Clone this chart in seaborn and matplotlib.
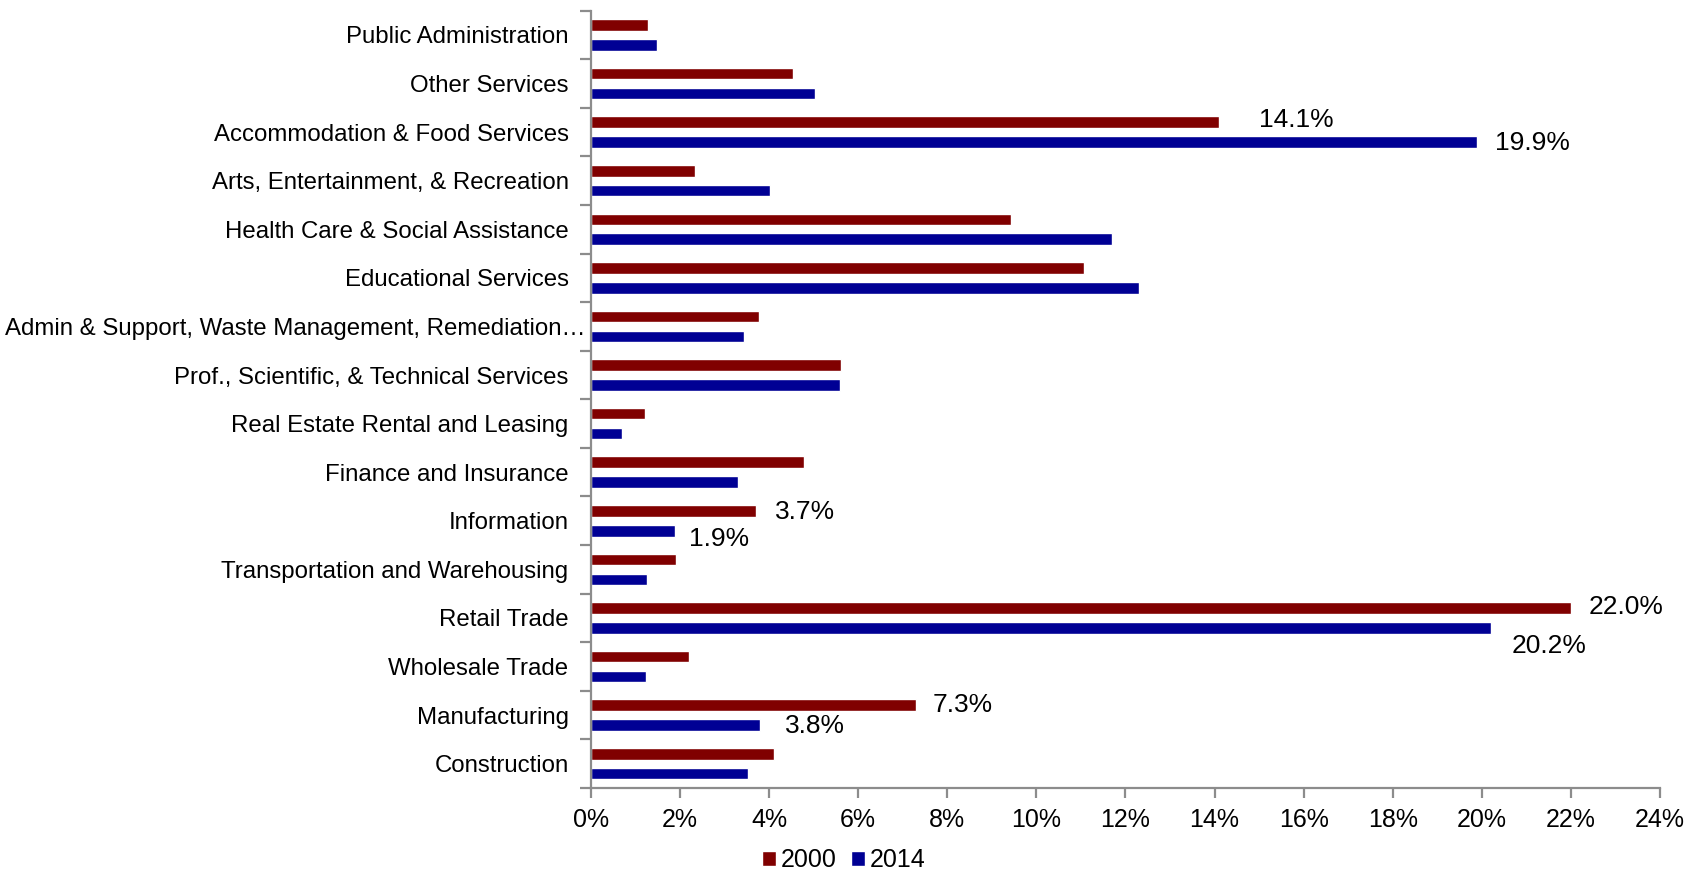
import matplotlib
matplotlib.use("Agg")
import matplotlib.pyplot as plt
from matplotlib.ticker import FixedLocator, FuncFormatter
from matplotlib.transforms import ScaledTranslation
import seaborn as sns
import pandas as pd

# ── data (share of employment, %) ────────────────────────────
industries = [
    "Public Administration",
    "Other Services",
    "Accommodation & Food Services",
    "Arts, Entertainment, & Recreation",
    "Health Care & Social Assistance",
    "Educational Services",
    "Admin & Support, Waste Management, Remediation\u2026",
    "Prof., Scientific, & Technical Services",
    "Real Estate Rental and Leasing",
    "Finance and Insurance",
    "Information",
    "Transportation and Warehousing",
    "Retail Trade",
    "Wholesale Trade",
    "Manufacturing",
    "Construction",
]
share_2000 = [1.29, 4.53, 14.1, 2.33, 9.44, 11.07, 3.78, 5.62,
              1.22, 4.78, 3.7, 1.91, 22.0, 2.21, 7.3, 4.11]
share_2014 = [1.48, 5.04, 19.9, 4.03, 11.69, 12.31, 3.43, 5.59,
              0.70, 3.31, 1.9, 1.27, 20.2, 1.25, 3.8, 3.53]
years = ["2000", "2014"]
x_ticks = list(range(0, 25, 2))

# labelled bars: (industry, year) -> text offset in points
label_offsets = {
    ("Accommodation & Food Services", "2000"): (29, 1.5),
    ("Accommodation & Food Services", "2014"): (13, -1),
    ("Retail Trade", "2000"): (13, 1),
    ("Retail Trade", "2014"): (15, -13),
    ("Information", "2000"): (14, -1),
    ("Information", "2014"): (10, -6),
    ("Manufacturing", "2000"): (12, 0),
    ("Manufacturing", "2014"): (18, -1),
}

COLORS = {"2000": "#800000", "2014": "#000094"}
AXIS_GRAY = "#8c8c8c"

df = pd.DataFrame({
    "industry": industries * 2,
    "share": share_2000 + share_2014,
    "year": [years[0]] * len(industries) + [years[1]] * len(industries),
})

sns.set_style("white")
plt.rcParams["font.family"] = ["Liberation Sans", "DejaVu Sans"]
plt.rcParams["text.color"] = "black"
plt.rcParams["xtick.color"] = "black"
plt.rcParams["ytick.color"] = "black"

fig = plt.figure(figsize=(17.04, 8.74), dpi=100)
ax = fig.add_axes([0.3467, 0.0984, 0.6275, 0.8894])

sns.barplot(data=df, y="industry", x="share", hue="year", order=industries,
            hue_order=years, palette=COLORS, orient="h", gap=0.42,
            width=0.82, saturation=1, ax=ax, legend=True)

ax.set_xlim(0, 24)
ax.set_ylim(len(industries) - 0.5, -0.5)
ax.set_xticks(x_ticks)
ax.xaxis.set_major_formatter(FuncFormatter(lambda v, _: f"{v:.0f}%"))
ax.set_xlabel("")
ax.set_ylabel("")

# category labels at centres, tick marks at group boundaries
ax.yaxis.set_minor_locator(FixedLocator([i - 0.5 for i in range(len(industries) + 1)]))
ax.tick_params(axis="y", which="major", length=0, labelsize=17.3, pad=16,
               labelcolor="black")
ax.tick_params(axis="y", which="minor", length=8, width=1.6, color=AXIS_GRAY)
ax.tick_params(axis="x", which="major", length=7, width=1.6, color=AXIS_GRAY,
               labelsize=18, pad=7.5, direction="out", labelcolor="black")
ax.tick_params(left=True, bottom=True, which="both")

sns.despine(ax=ax, top=True, right=True)
for side in ["left", "bottom"]:
    ax.spines[side].set_color(AXIS_GRAY)
    ax.spines[side].set_linewidth(1.6)
ax.grid(False)

# the truncated long label runs into the axis, as in the source chart
fig.canvas.draw()
for lab in ax.get_yticklabels():
    if lab.get_text().endswith("\u2026"):
        lab.set_transform(lab.get_transform()
                          + ScaledTranslation(0.17, 0, fig.dpi_scale_trans))

# value labels
lookup = {(r.industry, r.year): r.share for r in df.itertuples()}
for (ind, yr), (dx, dy) in label_offsets.items():
    val = lookup[(ind, yr)]
    ypos = industries.index(ind) + (-0.205 if yr == "2000" else 0.205)
    ax.annotate(f"{val:.1f}%", xy=(val, ypos), xytext=(dx, dy),
                textcoords="offset points", ha="left", va="center",
                fontsize=19, color="black")

# legend at the bottom
handles, labels = ax.get_legend_handles_labels()
ax.legend_.remove()
fig.legend(handles, labels, loc="center", bbox_to_anchor=(0.495, 0.0155),
           ncol=2, frameon=False, fontsize=18, handlelength=0.56,
           handleheight=0.56, handletextpad=0.2, columnspacing=0.56,
           borderpad=0.1)

fig.savefig("out.png", dpi=100)
plt.close(fig)
